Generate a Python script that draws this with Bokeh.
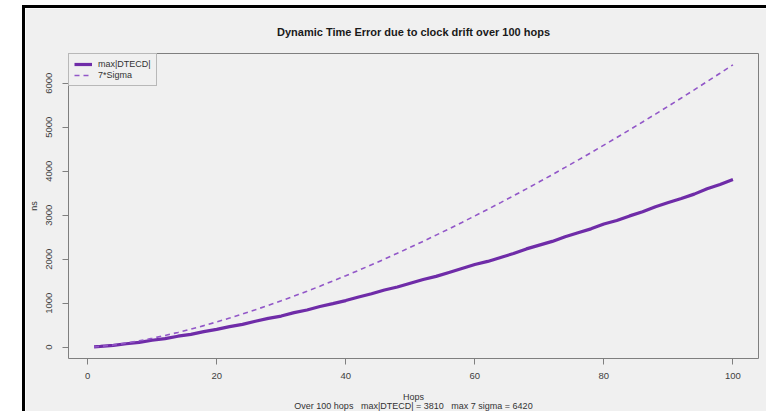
from bokeh.plotting import figure
from bokeh.models import Range1d
from bokeh.embed import file_html
from bokeh.resources import INLINE

hops = [1, 2, 4, 6, 8, 10, 12, 14, 16, 18, 20, 22, 24, 26, 28, 30, 32, 34, 36, 38, 40,
        42, 44, 46, 48, 50, 52, 54, 56, 58, 60, 62, 64, 66, 68, 70, 72, 74, 76, 78, 80,
        82, 84, 86, 88, 90, 92, 94, 96, 98, 100]
max_dtecd = [8, 18, 42, 78, 110, 158, 196, 250, 292, 355, 405, 468, 520, 590, 655, 708,
             785, 845, 925, 990, 1060, 1140, 1215, 1300, 1370, 1455, 1540, 1610, 1700,
             1790, 1880, 1950, 2040, 2130, 2235, 2320, 2405, 2510, 2600, 2690, 2800,
             2880, 2985, 3080, 3195, 3290, 3380, 3480, 3600, 3700, 3810]
sigma7 = [6, 18, 51, 94, 145, 203, 267, 336, 411, 490, 574, 662, 755, 851, 951, 1055,
          1162, 1273, 1387, 1504, 1624, 1747, 1874, 2003, 2135, 2270, 2407, 2548, 2690,
          2836, 2984, 3134, 3287, 3442, 3600, 3760, 3922, 4087, 4254, 4422, 4594,
          4767, 4943, 5120, 5300, 5481, 5665, 5851, 6039, 6228, 6420]
x_ticks = [0, 20, 40, 60, 80, 100]
y_ticks = [0, 1000, 2000, 3000, 4000, 5000, 6000]
x_title = "Hops"
subtitle = "Over 100 hops\u00a0\u00a0 max|DTECD| = 3810\u00a0\u00a0 max 7 sigma = 6420"

FONT = "Liberation Sans"
BG = "#f0f0f0"
GREY = "#7f7f7f"

p = figure(width=744, height=406,
           x_range=Range1d(-2.96, 103.96), y_range=Range1d(-257, 6677),
           output_backend="svg", toolbar_location=None,
           min_border_left=43, min_border_right=11, min_border_top=45, min_border_bottom=55,
           background_fill_color=BG, border_fill_color=BG,
           outline_line_color=GREY, outline_line_width=1)
p.styles = {"border-left": "3px solid black", "border-top": "3px solid black",
            "margin-left": "22px", "margin-top": "5px", "margin-bottom": "-3px"}
p.grid.visible = False

p.title.text = "Dynamic Time Error due to clock drift over 100 hops"
p.title.align = "center"
p.title.vertical_align = "middle"
p.title.text_font = FONT
p.title.text_font_size = "11px"
p.title.text_font_style = "bold"
p.title.text_color = "#1a1a1a"
p.title.standoff = 29

p.line(hops, max_dtecd, line_color="#6f2ca8", line_width=3.2, legend_label="max|DTECD|")
p.line(hops, sigma7, line_color="#9257c8", line_width=1.6, line_dash="5 4", legend_label="7*Sigma")

for ax in (p.xaxis[0], p.yaxis[0]):
    ax.axis_line_color = None
    ax.major_tick_line_color = GREY
    ax.major_tick_in = 0
    ax.major_tick_out = 6
    ax.minor_tick_line_color = None
    ax.major_label_text_font = FONT
    ax.major_label_text_font_size = "9.5px"
    ax.major_label_text_color = "#404040"
    ax.axis_label_text_font = FONT
    ax.axis_label_text_font_size = "9px"
    ax.axis_label_text_font_style = "normal"
    ax.axis_label_text_color = "#333333"

p.xaxis.ticker = x_ticks
p.yaxis.ticker = y_ticks
p.xaxis.axis_label = x_title + "\n" + subtitle
p.xaxis.axis_label_text_line_height = 0.97
p.yaxis.axis_label = "ns"
p.xaxis.major_label_standoff = 8
p.xaxis.axis_label_standoff = 10
p.yaxis.major_label_orientation = "vertical"
p.yaxis.major_label_standoff = 10
p.yaxis.axis_label_standoff = 5

lg = p.legend[0]
lg.location = "top_left"
lg.margin = 0
lg.padding = 5
lg.spacing = 1
lg.glyph_width = 18
lg.glyph_height = 10
lg.label_height = 10
lg.label_standoff = 6
lg.label_text_font = FONT
lg.label_text_font_size = "9px"
lg.label_text_color = "#333333"
lg.border_line_color = GREY
lg.background_fill_color = BG
lg.background_fill_alpha = 1

open("out.html", "w").write(file_html(p, INLINE))
